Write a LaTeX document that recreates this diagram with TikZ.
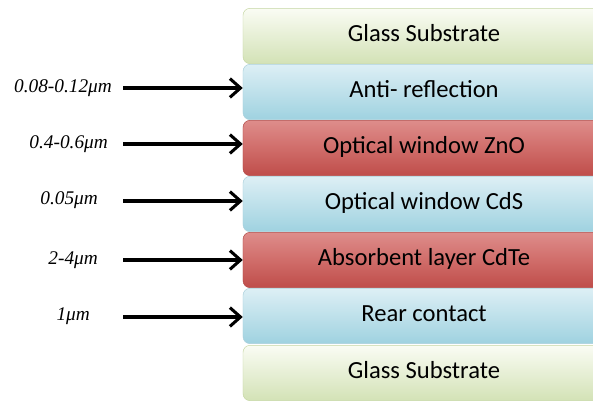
\documentclass[tikz,border=0pt]{standalone}
\usepackage{fontspec}
\usepackage{tikz}
\usetikzlibrary{arrows.meta}
\setmainfont{Liberation Serif}
\newfontfamily\layerfont{Carlito}

\definecolor{glassTop}{HTML}{FAFCF4}
\definecolor{glassBot}{HTML}{D3E2B6}
\definecolor{glassLine}{HTML}{C5D6A3}
\definecolor{blueTop}{HTML}{DDEFF5}
\definecolor{blueBot}{HTML}{9FD2E0}
\definecolor{blueLine}{HTML}{A9CFDA}
\definecolor{redTop}{HTML}{DE8D8B}
\definecolor{redMid}{HTML}{D06D6A}
\definecolor{redBot}{HTML}{BF4D4A}
\definecolor{redLine}{HTML}{B04845}

\tikzset{
  layer/.style={rounded corners=6pt, minimum width=10.86cm, minimum height=1.66cm,
    font=\layerfont\fontsize{21}{24}\selectfont, inner sep=0pt,
    text height=0.62cm, text depth=0.28cm},
  glass/.style={layer, draw=glassLine, top color=glassTop, bottom color=glassBot},
  blue/.style={layer, draw=blueLine, top color=blueTop, bottom color=blueBot},
  red/.style={layer, draw=redLine, top color=redTop, bottom color=redBot, middle color=redMid},
  thick label/.style={font=\itshape\fontsize{16.5}{18}\selectfont},
}

\begin{document}
\begin{tikzpicture}[x=0.03cm, y=-0.03cm]
\useasboundingbox (0,0) rectangle (593,403);
\clip (0,0) rectangle (593,403);
% layers
\node[glass] (glassUp)   at (424, 36)  {Glass Substrate};
\node[blue]  (antiRefl)  at (424, 92)  {Anti- reflection};
\node[red]   (winZnO)    at (424, 148) {Optical window ZnO};
\node[blue]  (winCdS)    at (424, 204) {Optical window CdS};
\node[red]   (absCdTe)   at (424, 260) {Absorbent layer CdTe};
\node[blue]  (rearCont)  at (424, 316) {Rear contact};
\node[glass] (glassDown) at (424, 373) {Glass Substrate};
% thickness labels
\node[thick label, anchor=east] (t1) at (116, 88)  {0.08-0.12μm};
\node[thick label, anchor=east] (t2) at (112, 144) {0.4-0.6μm};
\node[thick label, anchor=east] (t3) at (102, 200) {0.05μm};
\node[thick label, anchor=east] (t4) at (102, 260) {2-4μm};
\node[thick label, anchor=east] (t5) at (94, 316)  {1μm};
\coordinate (s1) at (123, 88);
\coordinate (s2) at (123, 144);
\coordinate (s3) at (123, 201);
\coordinate (s4) at (123, 260);
\coordinate (s5) at (123, 317);
\path[-{Straight Barb[length=9pt, width=16pt]}, line width=2.6pt]
          (s1) edge (s1 -| antiRefl.west)
          (s2) edge (s2 -| winZnO.west)
          (s3) edge (s3 -| winCdS.west)
          (s4) edge (s4 -| absCdTe.west)
          (s5) edge (s5 -| rearCont.west);
\end{tikzpicture}
\end{document}
